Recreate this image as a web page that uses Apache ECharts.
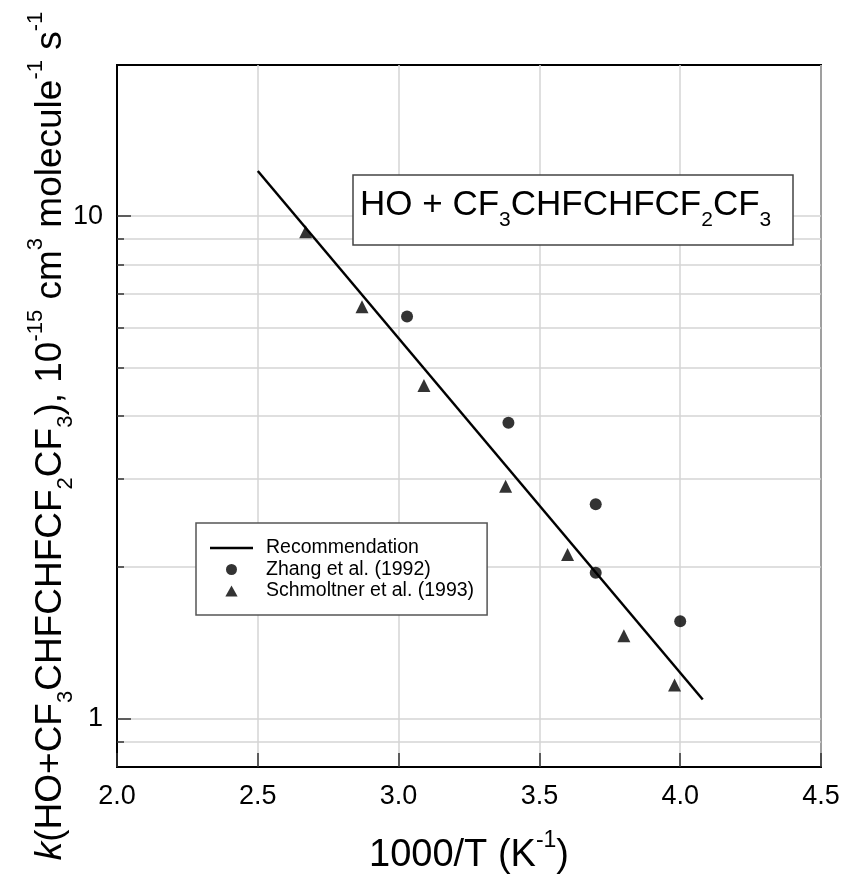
<!DOCTYPE html>
<html>
<head>
<meta charset="utf-8">
<script src="https://cdn.jsdelivr.net/npm/echarts@6/dist/echarts.min.js"></script>
<style>
    html, body { margin: 0; padding: 0; background: #fff; }
    #chart { width: 845px; height: 879px; }
</style>
</head>
<body>
<div id="chart"></div>
<script>
// recommendation line (end points)
var recX = [2.5, 4.08];
var recY = [12.3, 1.09];
// Zhang et al. (1992)
var zhangX = [3.03, 3.39, 3.70, 3.70, 4.00];
var zhangY = [6.31, 3.88, 2.67, 1.95, 1.56];
// Schmoltner et al. (1993)
var schmX = [2.67, 2.87, 3.09, 3.38, 3.60, 3.80, 3.98];
var schmY = [9.31, 6.60, 4.60, 2.90, 2.12, 1.46, 1.165];
// axis ticks
var yLabelTicks = [1, 10];
var yGridTicks = [0.9, 1, 2, 3, 4, 5, 6, 7, 8, 9, 10];

var FONT = '"Liberation Sans", Arial, sans-serif';

function zip(xs, ys) {
    var out = [];
    for (var i = 0; i < xs.length; i++) {
        out.push([xs[i], ys[i]]);
    }
    return out;
}

var chart = echarts.init(document.getElementById('chart'));

// 刻度朝内：用偏移的辅助轴画刻度
var tickStyle = { color: '#333', width: 1.5 };
var noLine = { show: false };

var mainTxt = { fontSize: 35, fontFamily: FONT, fontWeight: 'normal', color: '#000', lineHeight: 44 };
var subTxt = { fontSize: 21, fontFamily: FONT, fontWeight: 'normal', color: '#000', lineHeight: 44, padding: [30, 0, 0, 0] };

var option = {
    animation: false,
    backgroundColor: '#fff',
    grid: {
        left: 117, right: 24, top: 65, bottom: 112,
        show: true, borderColor: '#000', borderWidth: 2,
        outerBoundsMode: 'none'
    },
    title: {
        left: 353, top: 178,
        padding: [5, 22, 15, 7],
        borderColor: '#444', borderWidth: 1.5,
        backgroundColor: '#fff',
        text: '{m|HO + CF}{s|3}{m|CHFCHFCF}{s|2}{m|CF}{s|3}',
        textStyle: { fontWeight: 'normal', rich: { m: mainTxt, s: subTxt } }
    },
    legend: {
        orient: 'vertical',
        left: 196, top: 523,
        padding: [15, 13, 14, 14],
        itemGap: 1.5,
        itemWidth: 43, itemHeight: 11,
        borderColor: '#555', borderWidth: 1.5,
        backgroundColor: '#fff',
        textStyle: { fontSize: 19.5, fontFamily: FONT, color: '#000', padding: [0, 0, 0, 8] },
        data: [
            { name: 'Recommendation', icon: 'path://M0,0 L43,0 L43,2.5 L0,2.5 Z' },
            { name: 'Zhang et al. (1992)', icon: 'circle' },
            { name: 'Schmoltner et al. (1993)', icon: 'path://M5,0 L10,9 L0,9 Z' }
        ]
    },
    xAxis: [{
        type: 'value', min: 2, max: 4.5, interval: 0.5,
        axisLine: { lineStyle: { color: '#000', width: 2 } },
        axisTick: { show: false },
        axisLabel: {
            fontSize: 27, fontFamily: FONT, color: '#000', margin: 16,
            formatter: function (v) { return v.toFixed(1); }
        },
        splitLine: { lineStyle: { color: '#d4d4d4', width: 1.5 } },
        name: '{m|1000/T (K}{u|-1}{m|)}',
        nameLocation: 'middle', nameGap: 62,
        nameTextStyle: {
            rich: {
                m: { fontSize: 38, fontFamily: FONT, color: '#000' },
                u: { fontSize: 23, fontFamily: FONT, color: '#000', padding: [0, 0, 30, 0] }
            }
        }
    }, {
        type: 'value', min: 2, max: 4.5, interval: 0.5,
        position: 'bottom', offset: -14,
        axisLine: noLine,
        axisTick: { show: true, inside: false, length: 14, lineStyle: tickStyle },
        axisLabel: { show: false },
        splitLine: { show: false }
    }],
    yAxis: [{
        type: 'log', logBase: 10, min: 0.8, max: 20,
        axisLine: { show: true, lineStyle: { color: '#000', width: 2 } },
        axisTick: { show: false },
        axisLabel: { fontSize: 27, fontFamily: FONT, color: '#000', margin: 14, customValues: yLabelTicks },
        splitLine: { show: false }
    }, {
        type: 'log', logBase: 10, min: 0.8, max: 20,
        position: 'left', offset: -14,
        axisLine: noLine,
        axisTick: { show: true, inside: false, length: 14, customValues: yLabelTicks, lineStyle: tickStyle },
        axisLabel: { show: false },
        splitLine: { show: false }
    }, {
        type: 'log', logBase: 10, min: 0.8, max: 20,
        position: 'left', offset: -7,
        axisLine: noLine,
        axisTick: { show: true, inside: false, length: 7, customValues: yGridTicks, lineStyle: tickStyle },
        axisLabel: { show: false },
        splitLine: { show: true, lineStyle: { color: '#d4d4d4', width: 1.5 } }
    }],
    graphic: [{
        type: 'text',
        x: 51, y: 436,
        rotation: Math.PI / 2,
        style: {
            text: '{i|k}{m|(HO+CF}{s|3}{m|CHFCHFCF}{s|2}{m|CF}{s|3}{m|), 10}{u|-15}{m| cm}{u|3}{m| molecule}{u|-1}{m| s}{u|-1}',
            align: 'center', verticalAlign: 'middle',
            rich: {
                i: { fontSize: 37, fontFamily: FONT, fontStyle: 'italic', fill: '#000' },
                m: { fontSize: 37, fontFamily: FONT, fill: '#000' },
                s: { fontSize: 22, fontFamily: FONT, fill: '#000', padding: [30, 0, 0, 0] },
                u: { fontSize: 22, fontFamily: FONT, fill: '#000', padding: [0, 0, 30, 0] }
            }
        }
    }],
    series: [{
        name: 'Recommendation',
        type: 'line',
        data: zip(recX, recY),
        symbol: 'none',
        lineStyle: { color: '#000', width: 2.5 },
        itemStyle: { color: '#000' },
        z: 3
    }, {
        name: 'Zhang et al. (1992)',
        type: 'scatter',
        data: zip(zhangX, zhangY),
        symbol: 'circle', symbolSize: 12,
        itemStyle: { color: '#000' },
        z: 4
    }, {
        name: 'Schmoltner et al. (1993)',
        type: 'scatter',
        data: zip(schmX, schmY),
        symbol: 'triangle', symbolSize: 13,
        itemStyle: { color: '#000' },
        z: 4
    }]
};

chart.setOption(option);
</script>
</body>
</html>
